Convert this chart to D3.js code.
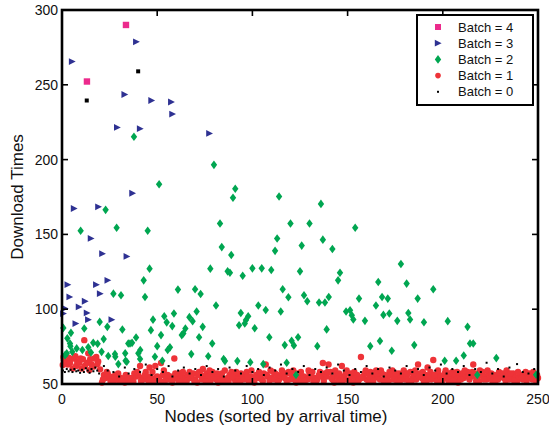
<!DOCTYPE html>
<html>
<head>
  <title>Download Times</title>
<style>
  body {
    margin: 0;
    background-color: #fff;
    font-family: "Liberation Sans", Arial, sans-serif;
  }
  .tick-label { font-size: 14px; fill: #111; }
  .axis-title { font-size: 17px; fill: #111; }
  .legend-text { font-size: 13px; fill: #111; }
</style>
</head>
<body>
  <div id="chart"></div>

  <script src="https://d3js.org/d3.v7.min.js"></script>
  <script>
    // ticks
    const xTicks = [0, 50, 100, 150, 200, 250];
    const yTicks = [50, 100, 150, 200, 250, 300];

    // batch = 4
    const batch4 = [[13.1, 252.2], [33.6, 290]];

    // batch = 3
    const batch3 = [
      [5.3, 265.5], [39, 278.7], [32.9, 243.5], [47, 239.5], [57.4, 238.5], [58, 230.4],
      [29, 221.5], [41, 220.7], [37, 177.5], [77.4, 217.5], [6.3, 167.3], [19.1, 168.4],
      [15.2, 147.3], [21.2, 137.1], [34, 135.3], [3, 116.4], [18, 116.4], [24, 119.3],
      [4, 108.2], [20, 110.4], [12.1, 105.3], [1.6, 100.5], [8.9, 101.5], [13.1, 97.5],
      [0.7, 97.1], [13.8, 93], [7.2, 90.4], [26.1, 93]
    ];

    // batch = 2
    const batch2 = [
      [37.8, 215.3], [51, 183.5], [22.9, 166.4], [9.8, 152.4], [28.7, 154.4], [45, 152.4],
      [79.8, 196.5], [91, 180.5], [89.8, 174.5], [114, 175.3], [83, 157.3], [120, 157.3],
      [130, 157.3], [113, 147.3], [83.9, 141.5], [125.9, 142.5], [111.9, 139], [88.9, 136.2],
      [136, 170.4], [154, 154.4], [137, 146.5], [142, 140.2],
      [46, 127.1], [42.9, 119.3], [60.9, 113.1], [27, 110.4], [31, 109.3], [43.6, 108.2],
      [19.8, 91.5], [23.8, 88.2], [11.7, 87.1], [0.7, 87.5], [4.7, 84.2], [31.7, 86.4],
      [47.8, 93], [53.7, 95.3], [58.8, 97.1], [55, 91.2], [57.9, 88.7], [46.7, 86],
      [52, 82.7], [38.9, 81.1], [62.9, 82.7], [2.8, 80.5], [21.9, 80], [16.4, 77.5],
      [18.7, 76.9], [4.4, 75.3], [13.8, 74.5], [34.8, 77.1], [36.8, 77.5], [50, 75.3],
      [7.7, 73.8], [10.7, 72.7], [5.4, 71.5], [41.1, 72.7], [56.7, 74.5], [55.5, 72.7],
      [33.2, 70.5], [15.2, 71.1], [1.6, 69.3], [24.3, 68.7], [28, 68.2], [48.8, 68.2],
      [41, 66.7], [52.7, 65.5], [33.4, 65.5], [29.6, 63.3], [4.2, 77.1], [2.5, 70.5],
      [20.8, 71.5], [27.8, 70], [35.7, 77.1], [40.1, 70.5], [34, 64.9],
      [77.9, 127.1], [87, 125.3], [88.2, 124.4], [94.9, 122.4], [100, 127.3], [104.9, 127.3],
      [109.9, 126.2], [125, 125.3], [69.9, 113.3], [72.8, 110.2], [115.9, 113.3], [118.9, 108],
      [127.1, 109.3], [128.8, 105.3], [80.9, 102.5], [103.1, 102.5], [107, 99.5], [70.7, 98.5],
      [93.9, 97.5], [114.9, 98.5], [66.9, 94.7], [68.6, 92], [97.8, 95.3], [96.6, 92.7],
      [93, 89.3], [96, 90.4], [73.9, 88.2], [101.2, 87.3], [64.8, 87.1], [63.7, 83.8],
      [72, 81.3], [108.9, 81.3], [78.9, 77.1], [124, 81.3], [120.6, 78.9], [121.8, 75.8],
      [117, 76], [67.9, 70], [76.8, 68.5], [84.9, 66.7], [85.6, 65.3], [92.1, 65.3],
      [98.9, 64.5], [105.7, 63.3], [118, 64.2], [122.9, 56],
      [178, 130.2], [146, 124.4], [145, 119.3], [166.1, 118.2], [181, 117.1], [135, 104.5],
      [138.1, 104.5], [140.1, 108.2], [156, 107.1], [168.1, 108.2], [171.1, 107.1], [186.8, 107.1],
      [164.9, 102.5], [149.2, 98.5], [151.3, 99.3], [152.2, 96], [153, 93.1], [168.8, 96.2],
      [171.9, 97.1], [181.9, 97.5], [182.8, 93.1], [176.1, 92.2], [159.1, 92.2], [190.1, 91.3],
      [139, 86.5], [134.1, 75.3], [161.9, 75.3], [167, 78.7], [173.2, 72.2], [185, 76],
      [195, 113.3], [202.6, 92], [213, 88.2], [214.3, 77.1], [216, 77.1], [211, 69.1],
      [201, 65.5], [207, 65.5], [228.1, 67.3], [218.1, 56], [249, 56.2]
    ];

    // batch = 1
    const batch1 = [
      [0.4, 62.7], [1, 66], [2.1, 65.5], [3, 63], [4.2, 64], [5.6, 60.4], [6, 67], [7.4, 62],
      [8, 65], [9.1, 64.2], [10.3, 60.4], [11, 66.5], [11.7, 79.3], [12, 62], [13, 64], [13.8, 70.5],
      [14.4, 59.3], [15.5, 63], [16.5, 61.6], [17, 67], [18.6, 63.3], [19, 65], [20, 59.8],
      [21, 51], [22, 56], [23, 54], [24, 57], [25, 55], [26, 53], [27, 52], [28, 56], [29, 53],
      [30, 52], [31, 54], [32, 53], [33, 51], [34, 55], [35, 53], [36, 52], [37, 54], [38, 57],
      [39, 55], [40, 56], [41, 62], [42, 54], [43, 53], [44, 58], [45, 55], [46, 61], [47, 54],
      [48, 52], [49, 62], [50, 55], [51, 53], [52, 64], [53, 56], [54, 52], [55, 54], [56, 53],
      [57, 55], [58, 51], [59, 67], [60, 54], [61, 53], [62, 57], [63, 55], [64, 52], [65, 54],
      [66, 56], [67, 58], [68, 55], [69, 57], [70, 53], [71, 51], [72, 58], [73, 56], [74, 60],
      [75, 54], [76, 57], [77, 55], [78, 52], [79, 58], [80, 56], [81, 53], [82, 51], [83, 55],
      [84, 57], [85, 53], [86, 52], [87, 54], [88, 56], [89, 58], [90, 54], [91, 52], [92, 55],
      [93, 53], [94, 57], [95, 56], [96, 54], [97, 58], [98, 52], [99, 55], [100, 53], [101, 51],
      [102, 56], [103, 54], [104, 55], [105, 53], [106, 57], [107, 63], [108, 55], [109, 52],
      [110, 54], [111, 58], [112, 57], [113, 56], [114, 53], [115, 55], [116, 57], [117, 54],
      [118, 52], [119, 58], [120, 57], [121, 55], [122, 53], [123, 51], [124, 54], [125, 56],
      [126, 52], [127, 55], [128, 54], [129, 53], [130, 57], [131, 55], [132, 52], [133, 54],
      [134, 53], [135, 56], [136, 55], [137, 64], [138, 57], [139, 55], [140, 63], [141, 58],
      [142, 53], [143, 51], [144, 56], [145, 54], [146, 52], [147, 62], [148, 55], [149, 57],
      [150, 53], [151, 52], [152, 55], [153, 51], [154, 54], [155, 56], [156, 53], [157, 68],
      [158, 55], [159, 57], [160, 53], [161, 52], [162, 58], [163, 56], [164, 54], [165, 59],
      [166, 55], [167, 53], [168, 57], [169, 52], [170, 55], [171, 54], [172, 58], [173, 56],
      [174, 53], [175, 55], [176, 52], [177, 57], [178, 54], [179, 56], [180, 53], [181, 55],
      [182, 52], [183, 58], [184, 54], [185, 56], [186, 53], [187, 63], [188, 57], [189, 54],
      [190, 52], [191, 56], [192, 61], [193, 55], [194, 53], [195, 66], [196, 54], [197, 52],
      [198, 56], [199, 55], [200, 53], [201, 57], [202, 54], [203, 52], [204, 55], [205, 58],
      [206, 56], [207, 53], [208, 51], [209, 55], [210, 57], [211, 54], [212, 56], [213, 58],
      [214, 53], [215, 55], [216, 63], [217, 57], [218, 54], [219, 52], [220, 56], [221, 58],
      [222, 55], [223, 53], [224, 57], [225, 54], [226, 52], [227, 56], [228, 55], [229, 53],
      [230, 57], [231, 55], [232, 54], [233, 52], [234, 56], [235, 53], [236, 55], [237, 57],
      [238, 54], [239, 52], [240, 55], [241, 56], [242, 53], [243, 55], [244, 52], [245, 54],
      [246, 56], [247, 53], [248, 55], [249, 52], [250, 54],
      [21.5, 53], [23.5, 58], [25.5, 51.5], [27.5, 55], [29.5, 57], [31.5, 51.5], [33.5, 56],
      [35.5, 54], [37.5, 51.5], [39.5, 58], [41.5, 52], [43.5, 56], [45.5, 52], [47.5, 58],
      [49.5, 54], [51.5, 51.5], [53.5, 59], [55.5, 56], [57.5, 53], [59.5, 57], [61.5, 51.5],
      [63.5, 58], [65.5, 52], [67.5, 54], [69.5, 52], [71.5, 56], [73.5, 53], [75.5, 51.5],
      [77.5, 59], [79.5, 54], [81.5, 57], [83.5, 52], [85.5, 59], [87.5, 51.5], [89.5, 55],
      [91.5, 58], [93.5, 51.5], [95.5, 53], [97.5, 55], [99.5, 59], [101.5, 54], [103.5, 58],
      [105.5, 52], [107.5, 56], [109.5, 59], [111.5, 53], [113.5, 51.5], [115.5, 59], [117.5, 57],
      [119.5, 53], [121.5, 59], [123.5, 57], [125.5, 58], [127.5, 52], [129.5, 59], [131.5, 58],
      [133.5, 51.5], [135.5, 58], [137.5, 52], [139.5, 58], [141.5, 54], [143.5, 59], [145.5, 57],
      [147.5, 52], [149.5, 59], [151.5, 57], [153.5, 58], [155.5, 51.5], [157.5, 54], [159.5, 59],
      [161.5, 55], [163.5, 52], [165.5, 57], [167.5, 59], [169.5, 56], [171.5, 51.5], [173.5, 59],
      [175.5, 57], [177.5, 52], [179.5, 59], [181.5, 57], [183.5, 51.5], [185.5, 59], [187.5, 55],
      [189.5, 58], [191.5, 52], [193.5, 58], [195.5, 56], [197.5, 59], [199.5, 51.5], [201.5, 59],
      [203.5, 57], [205.5, 52], [207.5, 58], [209.5, 53], [211.5, 59], [213.5, 55], [215.5, 58],
      [217.5, 52], [219.5, 59], [221.5, 53], [223.5, 59], [225.5, 57], [227.5, 51.5], [229.5, 58],
      [231.5, 57], [233.5, 59], [235.5, 57], [237.5, 52], [239.5, 58], [241.5, 54], [243.5, 58],
      [245.5, 57], [247.5, 58], [249.5, 56],
      [0.8, 68], [3.5, 67.5], [7, 68.5], [9.8, 67], [14.8, 66.5], [18, 68]
    ];

    // batch = 0
    const batch0 = [
      [0.5, 59], [1.5, 58], [2.5, 60], [3.5, 58.5], [4.5, 59.5], [5.5, 58], [6.5, 60], [7.5, 58.5],
      [8.5, 59], [9.5, 57.5], [10.5, 59.5], [11.5, 58], [12.5, 60.5], [13.5, 59], [14.5, 57.5],
      [15.5, 60], [16.5, 58.5], [17.5, 61], [18.5, 59], [19.5, 57], [22, 62], [24, 59], [27, 58],
      [30, 55], [33, 61], [35, 57], [38, 60], [41, 58], [44, 63], [47, 56], [50, 60], [53, 58],
      [56, 62], [58, 55], [61, 59], [64, 61], [67, 57], [70, 60], [73, 56], [76, 62], [79, 58],
      [82, 60], [85, 55], [88, 61], [91, 59], [94, 57], [97, 62], [100, 58], [103, 60], [106, 56],
      [109, 61], [112, 59], [115, 63], [118, 57], [121, 60], [124, 58], [127, 62], [130, 56],
      [133, 60], [136, 58], [139, 61], [142, 57], [145, 63], [148, 59], [151, 56], [154, 60],
      [157, 58], [160, 62], [163, 57], [166, 60], [169, 55], [172, 61], [175, 59], [178, 57],
      [181, 62], [184, 58], [187, 60], [190, 56], [193, 61], [196, 59], [199, 63], [202, 57],
      [205, 60], [208, 58], [211, 62], [214, 56], [217, 60], [220, 58], [223, 64.2], [226, 57],
      [229, 60], [232, 55], [235, 61], [239, 63.3], [242, 58], [245, 57], [248, 60]
    ];
    // the two larger black marks up high
    const batch0High = [[13, 239.5], [40, 259]];

    const legendLabels = ["Batch = 4", "Batch = 3", "Batch = 2", "Batch = 1", "Batch = 0"];

    const width = 549;
    const height = 426;
    const plot = { left: 62, right: 538, top: 10, bottom: 384 };

    const colors = { b4: "#ec2a8c", b3: "#2e3192", b2: "#00a651", b1: "#ee3338", b0: "#000" };

    const svg = d3.select("#chart")
      .append("svg")
      .attr("width", width)
      .attr("height", height);

    const x = d3.scaleLinear().domain([0, 250]).range([plot.left, plot.right]);
    const y = d3.scaleLinear().domain([50, 300]).range([plot.bottom, plot.top]);

    const dots = svg.append("g");

    // batch 1 (red circles)
    dots.selectAll(".b1")
      .data(batch1)
      .enter()
      .append("circle")
      .attr("class", "b1")
      .attr("cx", d => x(d[0]))
      .attr("cy", d => y(d[1]))
      .attr("r", 3.2)
      .attr("fill", colors.b1);

    // batch 0 (tiny black points)
    dots.selectAll(".b0")
      .data(batch0)
      .enter()
      .append("rect")
      .attr("class", "b0")
      .attr("x", d => x(d[0]) - 1)
      .attr("y", d => y(d[1]) - 1)
      .attr("width", 2)
      .attr("height", 2)
      .attr("fill", colors.b0);

    dots.selectAll(".b0h")
      .data(batch0High)
      .enter()
      .append("rect")
      .attr("class", "b0h")
      .attr("x", d => x(d[0]) - 2)
      .attr("y", d => y(d[1]) - 2)
      .attr("width", 4)
      .attr("height", 4)
      .attr("fill", colors.b0);

    // batch 2 (green diamonds)
    const diamond = "M0,-4.3L3.2,0L0,4.3L-3.2,0Z";
    dots.selectAll(".b2")
      .data(batch2)
      .enter()
      .append("path")
      .attr("class", "b2")
      .attr("d", diamond)
      .attr("transform", d => `translate(${x(d[0])},${y(d[1])})`)
      .attr("fill", colors.b2);

    // batch 3 (blue triangles pointing right)
    const triangle = "M-3.2,-3.4L3.6,0L-3.2,3.4Z";
    dots.selectAll(".b3")
      .data(batch3)
      .enter()
      .append("path")
      .attr("class", "b3")
      .attr("d", triangle)
      .attr("transform", d => `translate(${x(d[0])},${y(d[1])})`)
      .attr("fill", colors.b3);

    // batch 4 (magenta squares)
    dots.selectAll(".b4")
      .data(batch4)
      .enter()
      .append("rect")
      .attr("class", "b4")
      .attr("x", d => x(d[0]) - 3.2)
      .attr("y", d => y(d[1]) - 3.2)
      .attr("width", 6.4)
      .attr("height", 6.4)
      .attr("fill", colors.b4);

    // axes box with inward ticks on all four sides
    const tickLen = 6;
    const frame = svg.append("g").attr("stroke", "#000");

    frame.selectAll(".xt")
      .data(xTicks.slice(1, -1))
      .enter()
      .append("g")
      .each(function (t) {
        d3.select(this).append("line")
          .attr("x1", x(t)).attr("x2", x(t))
          .attr("y1", plot.bottom).attr("y2", plot.bottom - tickLen)
          .attr("stroke-width", 1.6);
        d3.select(this).append("line")
          .attr("x1", x(t)).attr("x2", x(t))
          .attr("y1", plot.top).attr("y2", plot.top + tickLen)
          .attr("stroke-width", 1.6);
      });

    frame.selectAll(".yt")
      .data(yTicks.slice(1, -1))
      .enter()
      .append("g")
      .each(function (t) {
        d3.select(this).append("line")
          .attr("x1", plot.left).attr("x2", plot.left + tickLen)
          .attr("y1", y(t)).attr("y2", y(t))
          .attr("stroke-width", 1.6);
        d3.select(this).append("line")
          .attr("x1", plot.right).attr("x2", plot.right - tickLen)
          .attr("y1", y(t)).attr("y2", y(t))
          .attr("stroke-width", 1.6);
      });

    frame.append("rect")
      .attr("x", plot.left)
      .attr("y", plot.top)
      .attr("width", plot.right - plot.left)
      .attr("height", plot.bottom - plot.top)
      .attr("fill", "none")
      .attr("stroke-width", 2.6);

    // tick labels
    svg.selectAll(".xl")
      .data(xTicks)
      .enter()
      .append("text")
      .attr("class", "tick-label")
      .attr("x", d => x(d))
      .attr("y", plot.bottom + 20)
      .attr("text-anchor", "middle")
      .text(d => d);

    svg.selectAll(".yl")
      .data(yTicks)
      .enter()
      .append("text")
      .attr("class", "tick-label")
      .attr("x", plot.left - 4)
      .attr("y", d => y(d) + 5)
      .attr("text-anchor", "end")
      .text(d => d);

    // axis titles
    svg.append("text")
      .attr("class", "axis-title")
      .attr("x", (plot.left + plot.right) / 2 - 24)
      .attr("y", plot.bottom + 38)
      .attr("text-anchor", "middle")
      .text("Nodes (sorted by arrival time)");

    svg.append("text")
      .attr("class", "axis-title")
      .attr("transform", `translate(23,${(plot.top + plot.bottom) / 2}) rotate(-90)`)
      .attr("text-anchor", "middle")
      .text("Download Times");

    // legend
    const legend = svg.append("g").attr("transform", "translate(417,15)");
    legend.append("rect")
      .attr("width", 116)
      .attr("height", 90)
      .attr("fill", "#fff")
      .attr("stroke", "#000")
      .attr("stroke-width", 2);

    const rows = legend.selectAll(".row")
      .data(legendLabels)
      .enter()
      .append("g")
      .attr("transform", (d, i) => `translate(0,${12 + i * 16.2})`);

    rows.append("text")
      .attr("class", "legend-text")
      .attr("x", 41)
      .attr("y", 4.5)
      .text(d => d);

    const mx = 21;
    legend.append("rect").attr("x", mx - 3).attr("y", 12 - 3).attr("width", 6).attr("height", 6).attr("fill", colors.b4);
    legend.append("path").attr("d", triangle).attr("transform", `translate(${mx},${12 + 16.2})`).attr("fill", colors.b3);
    legend.append("path").attr("d", diamond).attr("transform", `translate(${mx},${12 + 32.4})`).attr("fill", colors.b2);
    legend.append("circle").attr("cx", mx).attr("cy", 12 + 48.6).attr("r", 2.8).attr("fill", colors.b1);
    legend.append("rect").attr("x", mx - 1).attr("y", 12 + 64.8 - 1).attr("width", 2).attr("height", 2).attr("fill", colors.b0);
  </script>
</body>
</html>
